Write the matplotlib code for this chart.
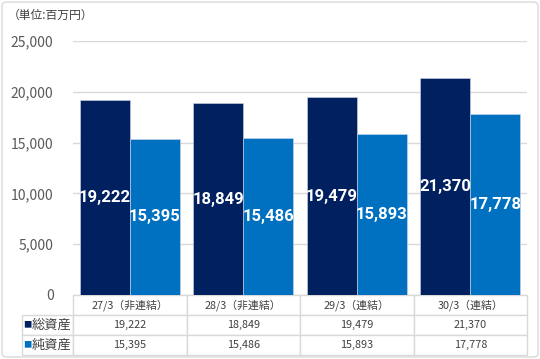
import matplotlib.pyplot as plt
from matplotlib.table import Table
from matplotlib.patches import FancyBboxPatch
import numpy as np

# データ
periods = ['27/3（非連結）', '28/3（非連結）', '29/3（連結）', '30/3（連結）']
total_assets = [19222, 18849, 19479, 21370]
net_assets = [15395, 15486, 15893, 17778]
series_names = ['総資産', '純資産']
series_colors = ['#002060', '#0070C0']

plt.rcParams['font.family'] = ['Noto Sans CJK JP', 'DejaVu Sans']

fig = plt.figure(figsize=(5.4, 3.59), dpi=100)
ax = fig.add_axes([73 / 540, 64 / 359, 454 / 540, 254 / 359])

x = np.arange(len(periods))
w = 0.44
bars1 = ax.bar(x - w / 2, total_assets, w, color=series_colors[0],
               edgecolor='#d0d8e8', linewidth=0.4, zorder=3)
bars2 = ax.bar(x + w / 2, net_assets, w, color=series_colors[1],
               edgecolor='#d0d8e8', linewidth=0.4, zorder=3)

# 数値ラベル（棒の中央）
for bars in (bars1, bars2):
    for b in bars:
        h = b.get_height()
        ax.text(b.get_x() + b.get_width() / 2, h / 2, f'{h:,.0f}',
                ha='center', va='center', color='white', fontsize=12,
                fontweight='bold', family=['Roboto', 'DejaVu Sans'],
                zorder=4)

ax.set_xlim(-0.5, len(periods) - 0.5)
ax.set_ylim(0, 25000)
ax.set_yticks(range(0, 25001, 5000))
ax.set_yticklabels([f'{v:,}' for v in range(0, 25001, 5000)],
                   color='#595959', fontsize=10)
ax.tick_params(axis='y', length=0, pad=14)
ax.tick_params(axis='x', length=0, labelbottom=False)
ax.grid(axis='y', color='#d9d9d9', linewidth=1, zorder=0)
for s in ax.spines.values():
    s.set_visible(False)

# データテーブル
rh = 20 / 254
lab_w = 51 / 454
tb = Table(ax, bbox=[-lab_w, -3 * rh, 1 + lab_w, 3 * rh])
edge = '#d9d9d9'
for j, p in enumerate(periods):
    c = tb.add_cell(0, j + 1, width=1, height=1, text=p, loc='center',
                    edgecolor=edge, facecolor='white')
    c.get_text().set_fontsize(7.8)
    c.get_text().set_color('#404040')
rows = [total_assets, net_assets]
for i, vals in enumerate(rows):
    tb.add_cell(i + 1, 0, width=lab_w * 4, height=1, text='',
                edgecolor=edge, facecolor='white')
    for j, v in enumerate(vals):
        c = tb.add_cell(i + 1, j + 1, width=1, height=1, text=f'{v:,}',
                        loc='center', edgecolor=edge, facecolor='white')
        c.get_text().set_fontsize(7.8)
        c.get_text().set_color('#404040')
tb.auto_set_font_size(False)
tb.set_clip_on(False)
ax.add_table(tb)

# 行ラベル（凡例マーク付き）
for i, name in enumerate(series_names):
    yy = -(i + 1.5) * rh
    ax.text(-50 / 454, yy, '■', color=series_colors[i], fontsize=6,
            ha='left', va='center', transform=ax.transAxes)
    ax.text(-41 / 454, yy, name, color='#404040', fontsize=9.5,
            ha='left', va='center', transform=ax.transAxes)

fig.text(8 / 540, 1 - 15 / 359, '（単位:百万円）', fontsize=8.5,
         color='#404040', ha='left', va='center')

# 外枠
fig.patches.append(FancyBboxPatch((2 / 540, 2 / 359), 536 / 540, 355 / 359,
                                  boxstyle='round,pad=0,rounding_size=0.01',
                                  transform=fig.transFigure, fill=False,
                                  edgecolor='#d9d9d9', linewidth=1))

fig.savefig('out.png', dpi=100)
